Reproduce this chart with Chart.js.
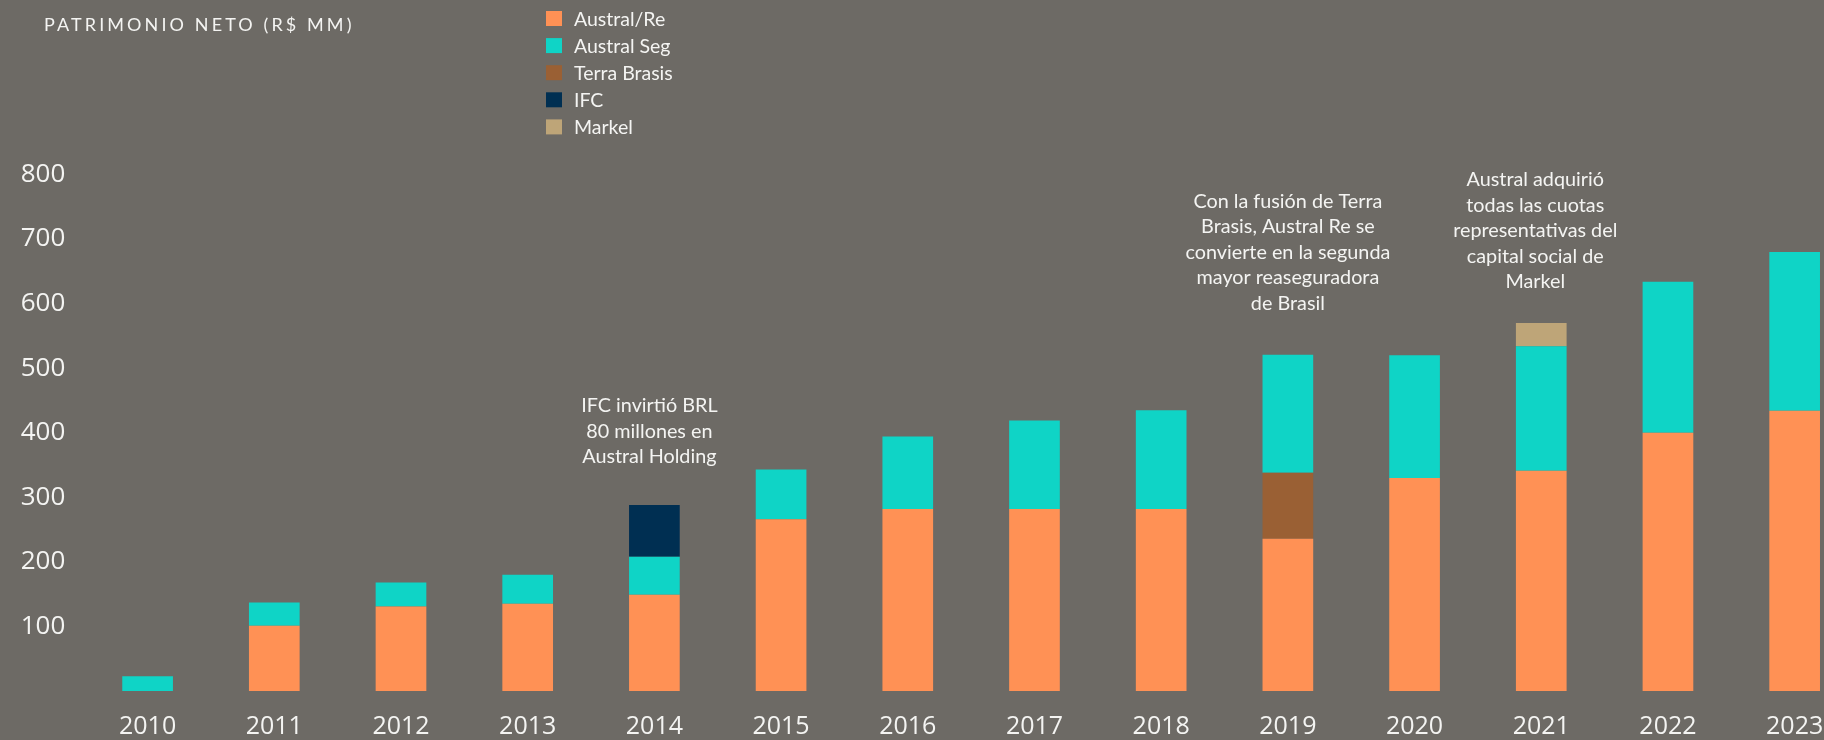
<!DOCTYPE html>
<html><head><meta charset="utf-8">
<script src="https://cdn.jsdelivr.net/npm/chart.js@4.4.1/dist/chart.umd.min.js"></script>
<style>
html,body{margin:0;padding:0;background:#6D6A65;overflow:hidden;width:1824px;height:740px;}
canvas{display:block;}
</style></head><body>
<canvas id="c" width="1860" height="740"></canvas>
<script>
// ---- data ----
const years = ['2010','2011','2012','2013','2014','2015','2016','2017','2018','2019','2020','2021','2022','2023'];
const australRe   = [null,101,131,135,149,266,282,282,282,236,330,341,400,434];
const terraBrasis = [null,null,null,null,null,null,null,null,null,102,null,null,null,null];
const australSeg  = [23,36,37,45,59,77,112,137,153,183,190,193,234,246];
const ifc         = [null,null,null,null,80,null,null,null,null,null,null,null,null,null];
const markel      = [null,null,null,null,null,null,null,null,null,null,null,36,null,null];
const yTickValues = [100,200,300,400,500,600,700,800];
const legendOrder = ['Austral/Re','Austral Seg','Terra Brasis','IFC','Markel'];
const titleText = 'PATRIMONIO NETO (R$ MM)';
const noteYears = ['2014','2019','2021'];
const noteLines = [
  ['IFC invirtió BRL','80 millones en','Austral Holding'],
  ['Con la fusión de Terra','Brasis, Austral Re se','convierte en la segunda','mayor reaseguradora','de Brasil'],
  ['Austral adquirió','todas las cuotas','representativas del','capital social de','Markel']
];

// ---- styles / placement (not data) ----
const colors = {
  'Austral/Re':'#FF9155',
  'Austral Seg':'#0FD4C6',
  'Terra Brasis':'#9A6034',
  'IFC':'#002F52',
  'Markel':'#BEA578'
};
const noteGap = [48, 51, 41];
const noteDx = [-5, 0, -6];
const textColor = '#F4F4F2';
const xTickFont = {family:'"Open Sans", sans-serif', size:25};
const yTickFont = {family:'"Open Sans", sans-serif', size:26};

const mk = (label, data) => ({label, data, backgroundColor: colors[label], borderWidth:0,
  barPercentage:0.4, categoryPercentage:1.0, stack:'s'});

const overlay = {
  id:'overlay',
  afterDraw(chart){
    const ctx = chart.ctx;
    const xs = chart.scales.x, ys = chart.scales.y;
    ctx.save();
    // title
    ctx.fillStyle = textColor;
    ctx.font = '18px Lato, sans-serif';
    ctx.letterSpacing = '3.1px';
    ctx.textAlign = 'left';
    ctx.textBaseline = 'middle';
    ctx.fillText(titleText, 44, 25);
    ctx.letterSpacing = '0px';
    // legend
    ctx.font = '19.5px Lato, sans-serif';
    legendOrder.forEach((lab, i) => {
      const cy = 18.5 + i*27.1;
      ctx.fillStyle = colors[lab];
      ctx.fillRect(546, cy-7.5, 16, 15);
      ctx.fillStyle = textColor;
      ctx.fillText(lab, 574, cy+1);
    });
    // annotations
    ctx.textAlign = 'center';
    ctx.font = '19.8px Lato, sans-serif';
    const sets = chart.data.datasets;
    noteYears.forEach((yr, k) => {
      const idx = years.indexOf(yr);
      let total = 0;
      sets.forEach(d => { total += (d.data[idx] || 0); });
      const cx = xs.getPixelForValue(idx) + noteDx[k];
      const top = ys.getPixelForValue(total);
      const lines = noteLines[k];
      const lastY = top - noteGap[k];
      lines.forEach((ln, j) => {
        ctx.fillText(ln, cx, lastY - (lines.length-1-j)*25.6);
      });
    });
    ctx.restore();
  }
};

new Chart(document.getElementById('c'), {
  type:'bar',
  data:{
    labels: years,
    datasets:[
      mk('Austral/Re', australRe),
      mk('Terra Brasis', terraBrasis),
      mk('Austral Seg', australSeg),
      mk('IFC', ifc),
      mk('Markel', markel)
    ]
  },
  options:{
    responsive:false,
    animation:false,
    devicePixelRatio:1,
    layout:{padding:{top:174.5, right:2, left:0, bottom:0}},
    plugins:{legend:{display:false}, tooltip:{enabled:false}, title:{display:false}},
    scales:{
      x:{
        stacked:true,
        grid:{display:false, drawTicks:false},
        border:{display:false},
        ticks:{color:textColor, font:xTickFont, padding:21, maxRotation:0, autoSkip:false},
        afterFit(s){ s.height = 49; }
      },
      y:{
        stacked:true,
        min:0, max:800,
        grid:{display:false, drawTicks:false},
        border:{display:false},
        ticks:{color:textColor, font:yTickFont, padding:19},
        afterBuildTicks(s){ s.ticks = yTickValues.map(v => ({value:v})); },
        afterFit(s){ s.width = 84.25; }
      }
    }
  },
  plugins:[overlay]
});
</script>
</body></html>
